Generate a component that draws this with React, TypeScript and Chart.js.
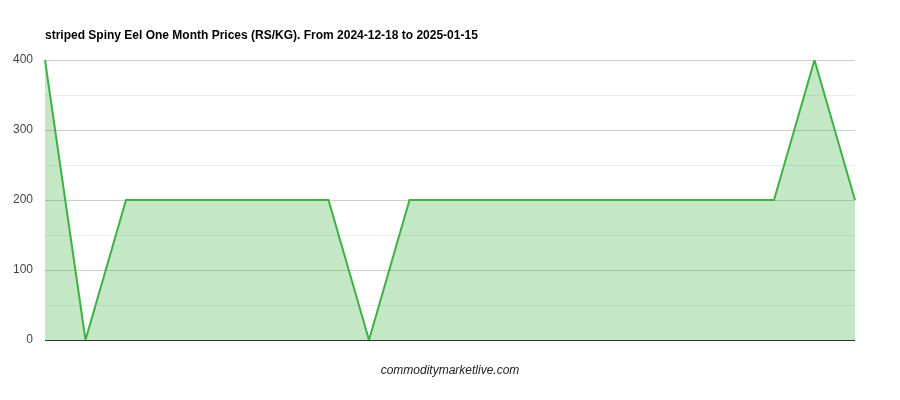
import { useEffect, useRef } from "react";
import { Chart, registerables } from "chart.js";

Chart.register(...registerables);

const TITLE = "striped Spiny Eel One Month Prices (RS/KG). From 2024-12-18 to 2025-01-15";
const FOOTER = "commoditymarketlive.com";

const dates = [
  "2024-12-18", "2024-12-19", "2024-12-20", "2024-12-21", "2024-12-23", "2024-12-24", "2024-12-25",
  "2024-12-26", "2024-12-27", "2024-12-28", "2024-12-30", "2024-12-31", "2025-01-02", "2025-01-03",
  "2025-01-04", "2025-01-06", "2025-01-07", "2025-01-08", "2025-01-10", "2025-01-13", "2025-01-15",
];
const prices = [400, 0, 200, 200, 200, 200, 200, 200, 0, 200, 200, 200, 200, 200, 200, 200, 200, 200, 200, 400, 200];
const yTicks = [0, 100, 200, 300, 400];

const LINE = "#3db143";
const FONT = "Arial, 'Liberation Sans', sans-serif";

// title + footer text drawn straight onto the canvas
const textPlugin = {
  id: "texts",
  afterDraw(chart: Chart) {
    const { ctx, chartArea } = chart;
    ctx.save();
    ctx.fillStyle = "#000";
    ctx.font = `bold 12px ${FONT}`;
    ctx.textAlign = "left";
    ctx.textBaseline = "alphabetic";
    ctx.fillText(TITLE, chartArea.left, 39);
    ctx.fillStyle = "#222";
    ctx.font = `italic 12px ${FONT}`;
    ctx.textAlign = "center";
    ctx.fillText(FOOTER, (chartArea.left + chartArea.right) / 2, 374);
    ctx.restore();
  },
};

export default function App() {
  const canvasRef = useRef<HTMLCanvasElement>(null);

  useEffect(() => {
    if (!canvasRef.current) return;
    const chart = new Chart(canvasRef.current, {
      type: "line",
      data: {
        labels: dates,
        datasets: [{
          data: prices,
          borderColor: LINE,
          backgroundColor: "rgba(61,177,67,0.3)",
          borderWidth: 2,
          pointRadius: 0,
          tension: 0,
          fill: "origin",
        }],
      },
      options: {
        animation: false,
        responsive: false,
        layout: { padding: { left: 0, right: 45, top: 60, bottom: 60 } },
        plugins: {
          legend: { display: false },
          tooltip: { enabled: false },
          title: { display: false },
        },
        scales: {
          x: { display: false, offset: false },
          y: {
            min: 0,
            max: 400,
            afterFit: (scale: any) => { scale.width = 45; },
            border: { display: false },
            grid: {
              drawTicks: false,
              color: (c: any) => c.tick.value === 0 ? "#333" : c.tick.value % 100 === 0 ? "#cccccc" : "#ebebeb",
            },
            ticks: {
              stepSize: 50,
              padding: 12,
              color: "#444",
              font: { family: FONT, size: 12 },
              callback: (v: any) => yTicks.includes(Number(v)) ? String(v) : "",
            },
          },
        },
      },
      plugins: [textPlugin],
    });
    return () => chart.destroy();
  }, []);

  return (
    <div style={{ position: "absolute", left: 0, top: 0, width: 900, height: 400, background: "#fff" }}>
      <canvas ref={canvasRef} width={900} height={400} />
    </div>
  );
}
